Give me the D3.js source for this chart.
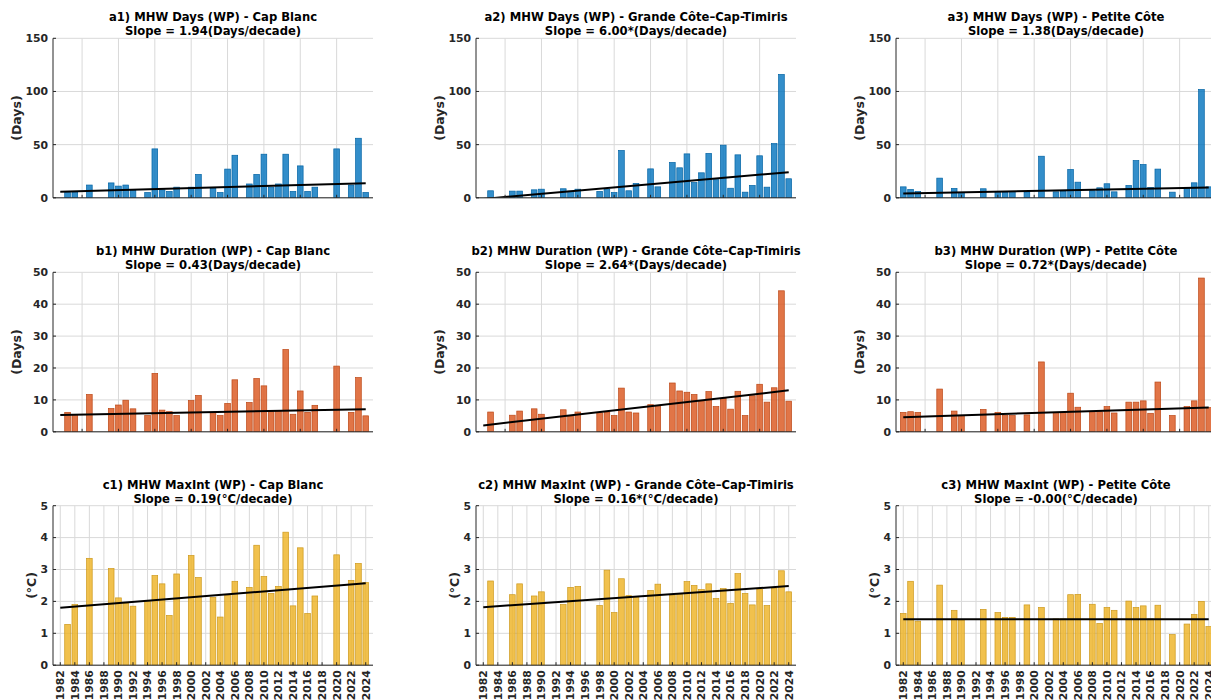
<!DOCTYPE html>
<html>
<head>
<meta charset="utf-8">
<script src="https://d3js.org/d3.v7.min.js"></script>
<style>
  body { margin: 0; background: #fff; }
  svg text { font-family: "DejaVu Sans", sans-serif; font-weight: bold; fill: #262626; }
</style>
</head>
<body>
<svg id="chart" width="1211" height="700"></svg>
<script>
// years on the x axis
var years = [1982,1983,1984,1985,1986,1987,1988,1989,1990,1991,1992,1993,1994,1995,1996,1997,1998,1999,
             2000,2001,2002,2003,2004,2005,2006,2007,2008,2009,2010,2011,2012,2013,2014,2015,2016,2017,
             2018,2019,2020,2021,2022,2023,2024];
var yearTicks = [1982,1984,1986,1988,1990,1992,1994,1996,1998,2000,2002,2004,2006,2008,2010,2012,2014,2016,2018,2020,2022,2024];
var gridYears = [1985,1990,1995,2000,2005,2010,2015,2020];

// MHW days
var daysCapBlanc = [0,5,5,0,12,0,0,14,11,12,7,0,5,46,7.5,6,10,0,10,22,0,9,5,27,40,0,13,22,41,10,13,41,6,30,6,10,0,0,46,0,12,56,5];
var daysGrandeCote = [0,6.6,0,0,6.3,6.3,0,7.5,8.1,0,0,8.5,6.3,8.1,0,0,6,7.8,5,44.5,6.6,13.5,0,27.2,10.3,0,33.2,28.2,41.3,14.4,23.5,41.7,17,49.5,9,40.4,5.3,11.6,39.5,10,51,116,17.9];
var daysPetiteCote = [10.3,7.8,6,0,0,18.5,0,8.8,5,0,0,8.5,0,6,5.5,6,0,5.5,0,39.1,0,5.6,6,26.6,14.7,0,6.6,9.4,13.2,5.6,0,11.6,35,31.3,9.7,27,0,5.3,0,9.1,14.1,101.8,10.3];

// MHW duration
var durCapBlanc = [0,6.1,5.4,0,11.7,0,0,7.3,8.4,9.9,7.2,0,5.1,18.3,6.8,6.3,5.1,0,9.8,11.4,0,6.1,5.1,8.9,16.3,0,9.2,16.7,14.4,6.3,6.5,25.8,5.5,12.8,6.1,8.3,0,0,20.6,0,6.1,17,5];
var durGrandeCote = [0,6.2,0,0,5.2,6.5,0,7.2,5.5,0,0,6.9,5.0,6.2,0,0,6.0,6.2,5.1,13.7,6.2,5.9,0,8.5,8.2,0,15.3,12.8,12.4,11.7,9.7,12.6,7.9,10.5,7.1,12.7,5.1,11.3,14.9,9.3,13.8,44.2,9.6];
var durPetiteCote = [6.1,6.3,6.1,0,0,13.4,0,6.5,5.1,0,0,7.0,0,6.1,5.1,5.1,0,5.3,0,21.9,0,6.1,6.0,12.1,7.7,0,6.3,6.3,7.9,5.9,0,9.3,9.3,9.7,5.8,15.6,0,5.1,0,7.9,9.7,48.2,7.6];

// MHW max intensity
var intCapBlanc = [0,1.28,1.90,0,3.35,0,0,3.03,2.11,1.95,1.85,0,2.0,2.81,2.55,1.56,2.86,0,3.44,2.75,0,2.13,1.51,2.2,2.63,0,2.44,3.76,2.78,2.25,2.47,4.17,1.86,3.68,1.62,2.17,0,0,3.46,0,2.66,3.19,2.59];
var intGrandeCote = [0,2.64,0,0,2.21,2.55,0,2.17,2.30,0,0,1.90,2.44,2.47,0,0,1.87,2.98,1.65,2.71,2.18,2.15,0,2.34,2.54,0,2.2,2.23,2.62,2.50,2.37,2.55,2.09,2.40,1.94,2.87,2.25,1.89,2.39,1.87,2.41,2.96,2.30];
var intPetiteCote = [1.62,2.63,1.38,0,0,2.51,0,1.72,1.42,0,0,1.75,0,1.65,1.50,1.50,0,1.89,0,1.81,0,1.45,1.45,2.21,2.22,0,1.91,1.31,1.81,1.72,0,2.01,1.81,1.86,1.45,1.88,0,0.96,0,1.29,1.59,2.0,1.21];

// trend line values at 1982 and 2024
var trendDays = [[5.6, 13.8], [-1.1, 24.1], [4.1, 9.8]];
var trendDur = [[5.3, 7.1], [2.0, 13.0], [4.6, 7.6]];
var trendInt = [[1.80, 2.57], [1.82, 2.48], [1.44, 1.44]];

var regions = ["Cap Blanc", "Grande Côte–Cap-Timiris", "Petite Côte"];
var slopeDays = ["1.94", "6.00*", "1.38"];
var slopeDur = ["0.43", "2.64*", "0.72*"];
var slopeInt = ["0.19", "0.16*", "-0.00"];

var rows = [
  {tag: "a", name: "MHW Days", unit: "Days", ylab: "(Days)", ymax: 150, ystep: 50, color: "#0072BD",
   series: [daysCapBlanc, daysGrandeCote, daysPetiteCote], trend: trendDays, slope: slopeDays},
  {tag: "b", name: "MHW Duration", unit: "Days", ylab: "(Days)", ymax: 50, ystep: 10, color: "#D95319",
   series: [durCapBlanc, durGrandeCote, durPetiteCote], trend: trendDur, slope: slopeDur},
  {tag: "c", name: "MHW MaxInt", unit: "°C", ylab: "(°C)", ymax: 5, ystep: 1, color: "#EDB120",
   series: [intCapBlanc, intGrandeCote, intPetiteCote], trend: trendInt, slope: slopeInt}
];

var colLeft = [53, 476, 896];
var plotW = 320;
var rowTop = [38.3, 272.3, 505.7];
var plotH = 159.5;

var svg = d3.select("#chart");

rows.forEach(function(r, ri) {
  regions.forEach(function(reg, ci) {
    drawPanel(r, ri, ci);
  });
});

function drawPanel(r, ri, ci) {
  var left = colLeft[ci], top = rowTop[ri];
  var g = svg.append("g").attr("transform", "translate(" + left + "," + top + ")");
  var x = d3.scaleLinear().domain([1981, 2025]).range([0, plotW]);
  var y = d3.scaleLinear().domain([0, r.ymax]).range([plotH, 0]);
  var yt = d3.range(0, r.ymax + r.ystep / 2, r.ystep);
  var isLast = (ri == 2);
  var xgrid = isLast ? yearTicks : gridYears;

  var clipId = "clip" + ri + ci;
  g.append("clipPath").attr("id", clipId)
    .append("rect").attr("width", plotW).attr("height", plotH);

  // grid
  g.selectAll(".gy").data(yt).join("line")
    .attr("x1", 0).attr("x2", plotW)
    .attr("y1", d => y(d)).attr("y2", d => y(d))
    .attr("stroke", "#d9d9d9").attr("stroke-width", 1);
  g.selectAll(".gx").data(xgrid).join("line").attr("class", "gx")
    .attr("x1", d => x(d)).attr("x2", d => x(d))
    .attr("y1", 0).attr("y2", plotH)
    .attr("stroke", "#d9d9d9").attr("stroke-width", 1);

  // bars
  var data = years.map((yr, i) => ({year: yr, v: r.series[ci][i]})).filter(d => d.v > 0);
  var bw = (x(1) - x(0)) * 0.78;
  g.append("g").attr("clip-path", "url(#" + clipId + ")")
    .selectAll("rect").data(data).join("rect")
    .attr("x", d => x(d.year) - bw / 2)
    .attr("y", d => y(d.v))
    .attr("width", bw)
    .attr("height", d => plotH - y(d.v))
    .attr("fill", r.color).attr("fill-opacity", 0.8)
    .attr("stroke", d3.color(r.color).darker(0.4)).attr("stroke-width", 0.7);

  // trend line
  var tr = r.trend[ci];
  g.append("line").attr("clip-path", "url(#" + clipId + ")")
    .attr("x1", x(years[0])).attr("y1", y(tr[0]))
    .attr("x2", x(years[years.length - 1])).attr("y2", y(tr[1]))
    .attr("stroke", "#000").attr("stroke-width", 2);

  // axes
  g.append("line").attr("x1", 0).attr("x2", 0).attr("y1", 0).attr("y2", plotH)
    .attr("stroke", "#262626").attr("stroke-width", 1);
  g.append("line").attr("x1", 0).attr("x2", plotW).attr("y1", plotH).attr("y2", plotH)
    .attr("stroke", "#262626").attr("stroke-width", 1);
  g.selectAll(".ty").data(yt).join("line")
    .attr("x1", 0).attr("x2", 3).attr("y1", d => y(d)).attr("y2", d => y(d))
    .attr("stroke", "#262626");
  g.selectAll(".tx").data(xgrid).join("line").attr("class", "tx")
    .attr("x1", d => x(d)).attr("x2", d => x(d)).attr("y1", plotH).attr("y2", plotH - 3)
    .attr("stroke", "#262626");

  g.selectAll(".yl").data(yt).join("text")
    .attr("x", -5).attr("y", d => y(d)).attr("dy", "0.36em")
    .attr("text-anchor", "end").style("font-size", "10.8px")
    .text(d => d);

  if (isLast) {
    g.selectAll(".xl").data(yearTicks).join("text")
      .attr("transform", d => "translate(" + x(d) + "," + (plotH + 5) + ") rotate(-90)")
      .attr("dy", "0.36em").attr("text-anchor", "end").style("font-size", "10.8px")
      .text(d => d);
  }

  // y label
  var labOff = isLast ? -22 : -37;
  g.append("text")
    .attr("transform", "translate(" + labOff + "," + (plotH / 2) + ") rotate(-90)")
    .attr("text-anchor", "middle").attr("dy", "0.36em").style("font-size", "12.5px")
    .text(r.ylab);

  // titles
  var num = ci + 1;
  g.append("text").attr("x", plotW / 2).attr("y", -17)
    .attr("text-anchor", "middle").style("font-size", "11.6px").style("fill", "#000")
    .text(r.tag + num + ") " + r.name + " (WP) - " + regions[ci]);
  g.append("text").attr("x", plotW / 2).attr("y", -3)
    .attr("text-anchor", "middle").style("font-size", "11.6px").style("fill", "#000")
    .text("Slope = " + r.slope[ci] + "(" + r.unit + "/decade)");
}
</script>
</body>
</html>
